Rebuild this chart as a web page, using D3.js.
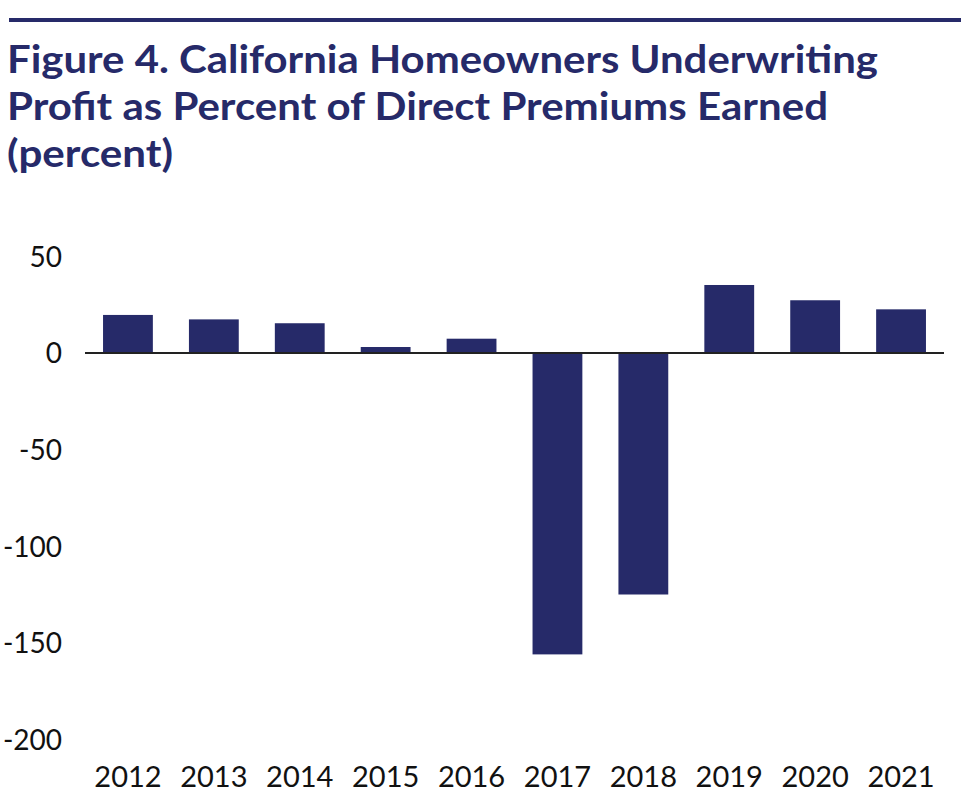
<!DOCTYPE html>
<html>
<head>
<meta charset="utf-8">
<script src="https://cdn.jsdelivr.net/npm/d3@7"></script>
<style>
  html, body { margin: 0; padding: 0; background: #ffffff; }
  svg { display: block; }
</style>
</head>
<body>
<svg id="chart" width="972" height="796"></svg>
<script>
// ---- Data ----
const titleLines = [
  "Figure 4. California Homeowners Underwriting",
  "Profit as Percent of Direct Premiums Earned",
  "(percent)"
];
const years = ["2012","2013","2014","2015","2016","2017","2018","2019","2020","2021"];
const profitPct = [19.7, 17.4, 15.4, 3.1, 7.4, -156, -125, 35.2, 27.3, 22.6];
const yTicks = [50, 0, -50, -100, -150, -200];

// ---- Layout ----
const navy = "#262a69";
const svg = d3.select("#chart");

// top rule
svg.append("rect").attr("x", 9).attr("y", 18).attr("width", 952).attr("height", 4).attr("fill", navy);

// title
const titleBaselines = [73, 120, 167];
const titleWidths = [871, 821, 166];
svg.selectAll("text.title").data(titleLines).join("text")
  .attr("class", "title")
  .attr("x", 7)
  .attr("y", (d, i) => titleBaselines[i])
  .attr("textLength", (d, i) => titleWidths[i])
  .attr("lengthAdjust", "spacingAndGlyphs")
  .attr("fill", navy)
  .style("font-family", "Lato, 'Open Sans', sans-serif")
  .style("font-weight", 700)
  .style("font-size", "39px")
  .text(d => d);

// scales
const x = d3.scaleBand().domain(years).range([85, 944]).paddingInner(0.42).paddingOuter(0.21);
const y = d3.scaleLinear().domain([-200, 50]).range([739.4, 256.4]);

// bars
svg.selectAll("rect.bar").data(years.map((yr, i) => ({yr, v: profitPct[i]}))).join("rect")
  .attr("class", "bar")
  .attr("x", d => x(d.yr))
  .attr("width", x.bandwidth())
  .attr("y", d => y(Math.max(0, d.v)))
  .attr("height", d => Math.abs(y(d.v) - y(0)))
  .attr("fill", navy);

// y axis labels (no line)
const yAxis = d3.axisLeft(y).tickValues(yTicks).tickSize(0).tickPadding(0).tickFormat(d3.format("d"));
const gy = svg.append("g").attr("transform", "translate(62,0)").call(yAxis);
gy.select(".domain").remove();
gy.selectAll("text")
  .attr("fill", "#111")
  .style("font-family", "Lato, 'Open Sans', sans-serif")
  .style("font-size", "28px")
  .attr("dy", "0.35em")
  .text(d => String(d).replace("\u2212", "-"));

// x axis at zero
const xAxis = d3.axisBottom(x).tickSize(0).tickPadding(0);
const gx = svg.append("g").attr("transform", `translate(0,${y(0)})`).call(xAxis);
gx.select(".domain").attr("stroke", "#222").attr("stroke-width", 2.2).attr("d", `M85,0H944`);
gx.selectAll(".tick text")
  .attr("y", 787 - y(0))
  .attr("dy", 0)
  .attr("fill", "#111")
  .style("font-family", "Lato, 'Open Sans', sans-serif")
  .style("font-size", "29px");
</script>
</body>
</html>
